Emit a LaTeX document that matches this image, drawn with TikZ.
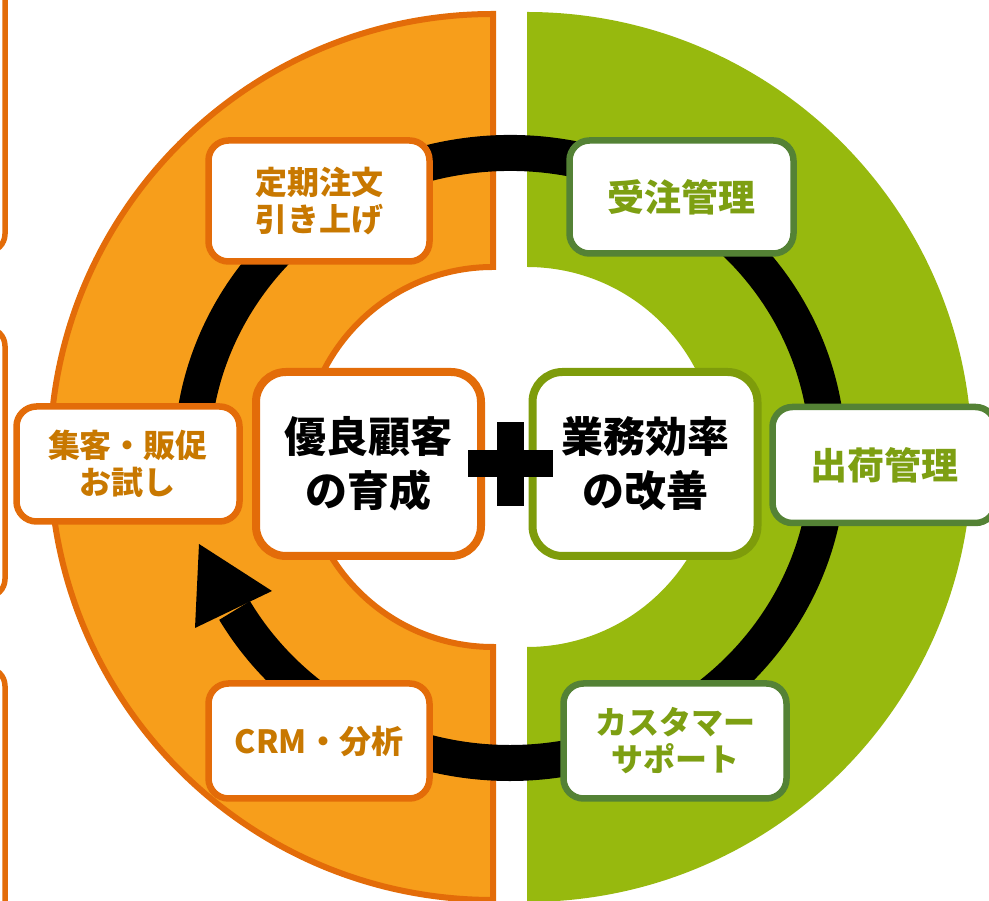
\documentclass[tikz,border=0pt]{standalone}
\usepackage{fontspec}
\usetikzlibrary{calc}
\newfontfamily\jp{Noto Sans CJK JP}
\definecolor{ofill}{HTML}{F79E1B}
\definecolor{oline}{HTML}{E36C09}
\definecolor{otext}{HTML}{C87800}
\definecolor{gfill}{HTML}{97B90E}
\definecolor{gline}{HTML}{548235}
\definecolor{gbig}{HTML}{7E9C0B}
\definecolor{gtext}{HTML}{7D9F12}
\begin{document}
\begin{tikzpicture}[x=1pt,y=1pt,
  obox/.style={draw=oline, fill=white, line width=6.5pt, rounded corners=20pt, inner sep=0pt, align=center,
    font=\jp\bfseries\fontsize{32}{37}\selectfont, text=otext},
  gbox/.style={draw=gline, fill=white, line width=6.5pt, rounded corners=20pt, inner sep=0pt, align=center,
    font=\jp\bfseries\fontsize{32}{37}\selectfont, text=gtext},
  bigbox/.style={fill=white, line width=8pt, rounded corners=30pt, inner sep=0pt, align=center,
    font=\jp\bfseries\fontsize{42}{54}\selectfont, text=black, minimum width=225pt, minimum height=184pt},
  sidebox/.style={draw=oline, fill=white, line width=5.5pt, rounded corners=18pt},
  ring/.style={line width=36pt, draw=black}
]
\useasboundingbox (0,0) rectangle (989,901);
\clip (0,0) rectangle (989,901);

% partial boxes at the left edge
\draw[sidebox] (-300,649) rectangle (5,960);
\draw[sidebox] (-300,304) rectangle (5,573);
\draw[sidebox] (-300,-60) rectangle (5,233);

% two half rings
\fill[gfill] (527,889) arc[start angle=90,end angle=-90,radius=445] -- (527,254)
  arc[start angle=-90,end angle=90,radius=190] -- cycle;
\filldraw[fill=ofill, draw=oline, line width=6pt] (493,887) arc[start angle=90,end angle=270,radius=443] -- (493,254)
  arc[start angle=270,end angle=90,radius=190] -- cycle;

% black cycle ring with arrow
\coordinate (rc) at (510,443);
\coordinate (r1) at ($(rc)+({318*cos(190)},{305*sin(190)})$);
\coordinate (atip) at (199,357);
\coordinate (awl) at (195,273);
\coordinate (awr) at (272,310);
\draw[ring] (r1) arc[start angle=190,end angle=-150,x radius=318,y radius=305] coordinate (abase);
\fill[black] (atip) -- (awl) -- (awr) -- cycle;

% small boxes
\node[obox, minimum width=221pt, minimum height=121pt] (teiki) at (319,700) {定期注文\\引き上げ};
\node[gbox, minimum width=224pt, minimum height=113pt, font=\jp\bfseries\fontsize{37}{40}\selectfont] (juchu) at (681.5,704) {受注管理};
\node[obox, minimum width=223pt, minimum height=115pt] (shukyaku) at (128,437) {集客・販促\\お試し};
\node[gbox, minimum width=223pt, minimum height=116pt, font=\jp\bfseries\fontsize{37}{40}\selectfont] (shukka) at (884,436) {出荷管理};
\node[obox, minimum width=221pt, minimum height=115pt] (crm) at (319,160) {CRM・分析};
\node[gbox, minimum width=223pt, minimum height=115pt] (cs) at (675,160) {カスタマー\\サポート};

% central boxes
\node[bigbox, draw=oline] (yuryo) at (368.5,437) {優良顧客\\の育成};
\node[bigbox, draw=gbig] (gyomu) at (645,437) {業務効率\\の改善};

% plus sign
\fill[black] (468,424) rectangle (553,451);
\fill[black] (497,395) rectangle (524,479);
\end{tikzpicture}
\end{document}
